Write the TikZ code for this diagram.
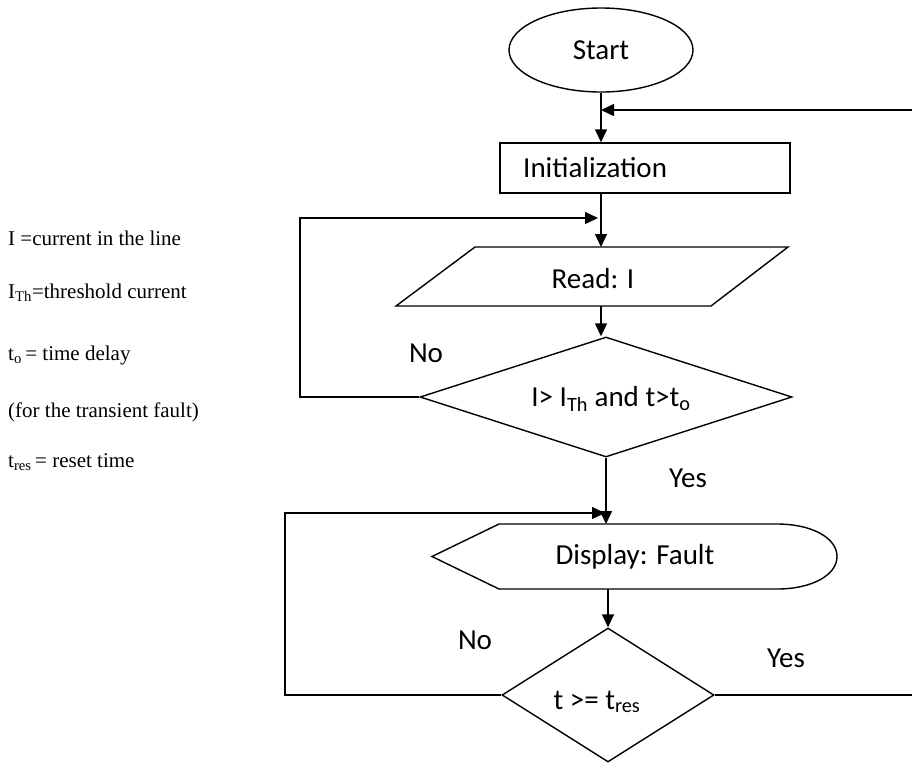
\documentclass[tikz,border=0pt]{standalone}
\usepackage{fontspec}
\setmainfont{Liberation Serif}
\newfontfamily\carl{Carlito}
\usetikzlibrary{arrows.meta,shapes.geometric}
\begin{document}
\begin{tikzpicture}[x=1pt,y=-1pt,
  ln/.style={line width=1.4pt},
  arr/.style={ln,-{Triangle[length=13pt,width=12pt]}},
  shp/.style={draw,line width=1.4pt,inner sep=0pt},
  lbl/.style={font=\carl\fontsize{29}{29}\selectfont, inner sep=0pt},
  leg/.style={font=\fontsize{21}{21}\selectfont, inner sep=0pt, anchor=base west}]
\useasboundingbox (0,0) rectangle (912,764);
\clip (0,0) rectangle (912,764);

% legend
\node[leg] (lg1) at (8,245) {I =current in the line};
\node[leg] (lg2) at (8,298) {I\textsubscript{Th}=threshold current};
\node[leg] (lg3) at (8,360) {t\textsubscript{o}\,= time delay};
\node[leg] (lg4) at (8,417) {(for the transient fault)};
\node[leg] (lg5) at (8,467) {t\textsubscript{res}\,= reset time};

% start
\node[shp, ellipse, minimum width=184, minimum height=84, lbl] (start) at (601,50) {Start};

% initialization
\node[shp, rectangle, minimum width=290, minimum height=50] (init) at (645,168) {};
\node[lbl, anchor=west] (initt) at (523,168) {Initialization};

% read parallelogram
\coordinate (r1) at (475,247);
\coordinate (r2) at (788,247);
\coordinate (r3) at (711,306);
\coordinate (r4) at (396,306);
\draw[ln] (r1) -- (r2) -- (r3) -- (r4) -- cycle;
\node[lbl] (read) at (593,279) {Read: I};
\coordinate (readN) at (601,247);
\coordinate (readS) at (601,306);

% decision 1
\node[shp, diamond, minimum width=372, minimum height=120] (d1) at (606,397) {};
\node[lbl] (d1t) at (611,399) {I> I\textsubscript{Th} and t>t\textsubscript{o}};

% display
\coordinate (dispN) at (606,524);
\coordinate (dispS) at (608,589);
\draw[ln] (499,524) -- (777,524) .. controls (812,524) and (837,538) .. (837,556.5)
  .. controls (837,575) and (812,589) .. (777,589) -- (499,589) -- (432,556.5) -- cycle;
\node[lbl] (disp) at (635,557) {Display: Fault};

% decision 2
\node[shp, diamond, minimum width=212, minimum height=134] (d2) at (608,695) {};
\node[lbl] (d2t) at (597,702) {t >= t\textsubscript{res}};

% labels
\node[lbl] (no1) at (426,353) {No};
\node[lbl] (yes1) at (688,478) {Yes};
\node[lbl] (no2) at (475,640) {No};
\node[lbl] (yes2) at (786,658) {Yes};

% connectors
\draw[arr] (start.south) -- (start.south |- init.north);
\draw[arr] (readN |- init.south) -- (readN);
\draw[arr] (readS) -- (readS |- d1.north);
\draw[arr] (d1.south) -- (dispN);
\draw[arr] (dispS) -- (d2.north);

\coordinate (fb1) at (601,110);
\coordinate (fb2) at (598,218);
\coordinate (fb3) at (605,513);
\draw[arr] (d2.east) -- (920,695) |- (fb1);
\draw[arr] (d1.west) -- (300,397) |- (fb2);
\draw[arr] (d2.west) -- (285,695) |- (fb3);
\end{tikzpicture}
\end{document}
